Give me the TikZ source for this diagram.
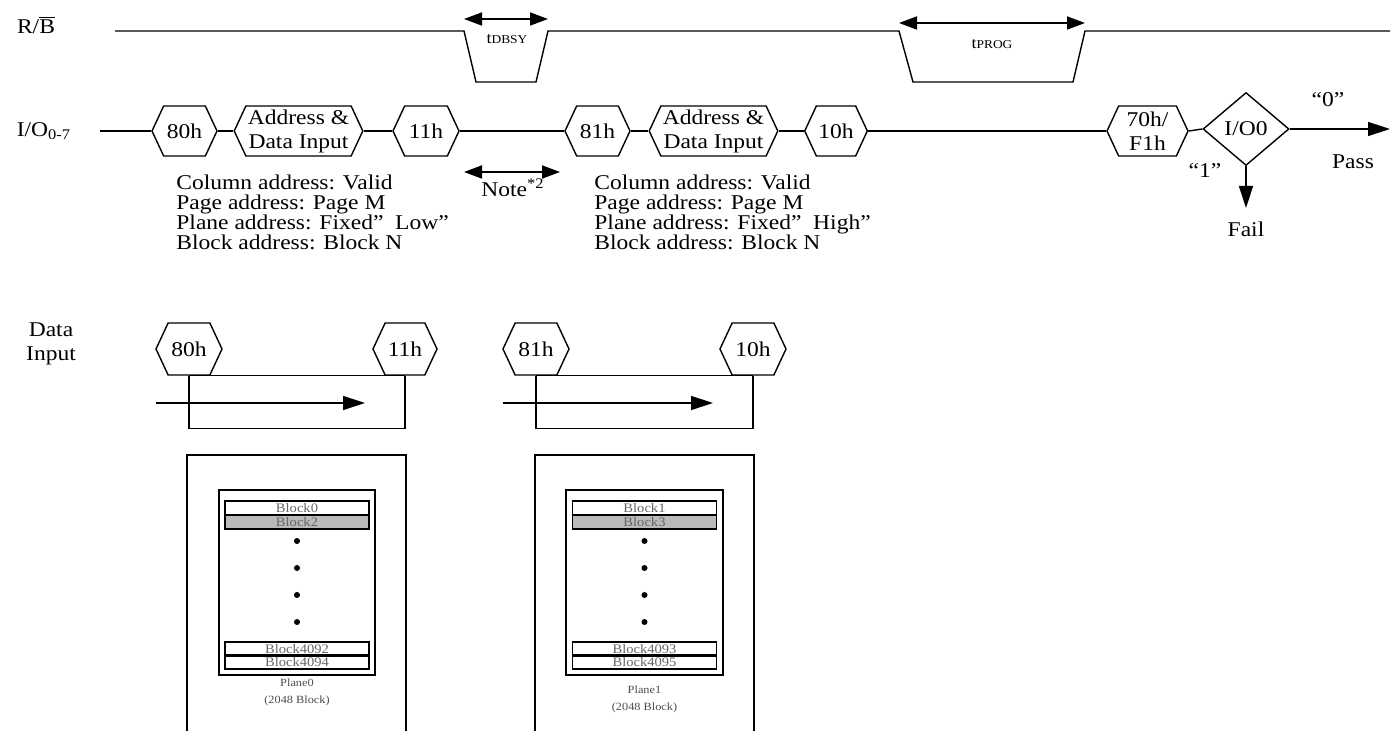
\documentclass[tikz,border=0pt]{standalone}
\usepackage{amsmath}
\usepackage{fontspec}
\setmainfont[FakeStretch=1.12]{Liberation Serif}
\usetikzlibrary{shapes.symbols, shapes.geometric, arrows.meta}
\tikzstyle{hexa}=[draw, line width=0.7pt, signal, signal to=east and west, signal pointer angle=130, minimum height=25pt, inner sep=1pt, align=center, font=\fontsize{10.5}{12}\selectfont]
\tikzstyle{wire}=[line width=0.7pt]
\tikzstyle{span}=[line width=0.9pt, {Triangle[length=9pt,width=6.5pt]}-{Triangle[length=9pt,width=6.5pt]}]
\tikzstyle{flow}=[line width=0.7pt, -{Triangle[length=11pt,width=7pt]}]
\tikzstyle{addr}=[align=left, anchor=north west, inner sep=0pt, font=\fontsize{10.5}{10}\selectfont]
\tikzstyle{tag}=[inner sep=0pt, font=\fontsize{10.5}{12}\selectfont]
\tikzstyle{tiny}=[inner sep=0pt, font=\fontsize{5.5}{6.5}\selectfont, text=black!70, align=center]
\tikzstyle{blk}=[draw, line width=0.7pt, minimum width=72pt, minimum height=7pt, inner sep=0pt, font=\fontsize{6.5}{6.5}\selectfont, text=black!60]
\tikzstyle{blkon}=[blk, fill=black!27]
\tikzstyle{dotmark}=[circle, fill=black, inner sep=0pt, minimum size=3pt]

\begin{document}
\begin{tikzpicture}[x=0.5pt, y=-0.5pt]
\useasboundingbox (0,0) rectangle (1397,731);

% R/B waveform
\node[tag] (rb) at (36,25) {R/$\overline{\text{B}}$};
\draw[wire] (115,31) -- (464,31) -- (476,82) -- (536,82) -- (548,31) -- (899,31)
  -- (913,82) -- (1073,82) -- (1085,31) -- (1390,31);
\coordinate (dbsyL) at (464,19);
\coordinate (dbsyR) at (548,19);
\draw[span] (dbsyL) -- (dbsyR);
\node[tag, font=\fontsize{8}{9}\selectfont] (tdbsy) at (507,39) {t{\fontsize{6}{7}\selectfont DBSY}};
\coordinate (progL) at (899,23);
\coordinate (progR) at (1085,23);
\draw[span] (progL) -- (progR);
\node[tag, font=\fontsize{8}{9}\selectfont] (tprog) at (992,44) {t{\fontsize{6}{7}\selectfont PROG}};

% I/O sequence
\node[tag] (io) at (44,131) {I/O\textsubscript{0-7}};
\coordinate (iostart) at (100,131);
\node[hexa, minimum width=32.5pt] (c80) at (184.5,131) {80h};
\node[hexa, minimum width=63.5pt] (ad1) at (298.5,131) {Address \&\\Data Input};
\node[hexa, minimum width=33pt] (c11) at (426,131) {11h};
\node[hexa, minimum width=32.5pt] (c81) at (597.5,131) {81h};
\node[hexa, minimum width=63.5pt] (ad2) at (713.5,131) {Address \&\\Data Input};
\node[hexa, minimum width=31pt] (c10) at (836,131) {10h};
\node[hexa, minimum width=40.5pt] (c70) at (1147.5,131) {70h/\\F1h};
\node[diamond, draw, line width=0.7pt, minimum width=43pt, minimum height=36.5pt, inner sep=0pt, font=\fontsize{10.5}{12}\selectfont] (io0) at (1246,129) {I/O0};
\coordinate (pass) at (1390,129);
\coordinate (fail) at (1246,208);
\draw[wire] (iostart) -- (c80.west);
\draw[wire] (c80.east) -- (ad1.west);
\draw[wire] (ad1.east) -- (c11.west);
\draw[wire] (c11.east) -- (c81.west);
\draw[wire] (c81.east) -- (ad2.west);
\draw[wire] (ad2.east) -- (c10.west);
\draw[wire] (c10.east) -- (c70.west);
\draw[wire] (c70.east) -- (io0.west);
\draw[flow] (io0.east) -- (pass);
\draw[flow] (io0.south) -- (fail);
\node[tag] (zero) at (1328,100) {``0''};
\node[tag] (one) at (1205,171) {``1''};
\node[tag] (passlbl) at (1353,162) {Pass};
\node[tag] (faillbl) at (1246,229) {Fail};

\coordinate (noteL) at (464,172);
\coordinate (noteR) at (560,172);
\draw[span] (noteL) -- (noteR);
\node[tag] (note) at (513,188) {Note\textsuperscript{*2}};

\node[addr] (addr1) at (176,175) {Column address: Valid\\Page address: Page M\\Plane address: Fixed''\ \ Low''\\Block address: Block N};
\node[addr] (addr2) at (594,175) {Column address: Valid\\Page address: Page M\\Plane address: Fixed''\ \ High''\\Block address: Block N};

% Data input
\node[tag, align=center, font=\fontsize{10.5}{12}\selectfont] (din) at (51,344) {Data\\Input};
\node[hexa, minimum width=33pt, minimum height=26pt] (d80) at (189,349) {80h};
\node[hexa, minimum width=32pt, minimum height=26pt] (d11) at (405,349) {11h};
\node[hexa, minimum width=33pt, minimum height=26pt] (d81) at (536,349) {81h};
\node[hexa, minimum width=33pt, minimum height=26pt] (d10) at (753,349) {10h};
\draw[wire] (d80.south) -- (d11.south);
\draw[wire] (d80.south) -- ++(0,53) -| (d11.south);
\draw[wire] (d81.south) -- (d10.south);
\draw[wire] (d81.south) -- ++(0,53) -| (d10.south);
\coordinate (in0s) at (156,403);
\coordinate (in0e) at (365,403);
\coordinate (in1s) at (503,403);
\coordinate (in1e) at (713,403);
\draw[flow] (in0s) -- (in0e);
\draw[flow] (in1s) -- (in1e);

% Plane 0
\draw[wire] (187,731) |- (406,455) -- (406,731);
\draw[wire] (219,490) rectangle (375,675);
\node[blk] (b0) at (297,508) {Block0};
\node[blkon] (b2) at (297,522) {Block2};
\node[blk] (b4092) at (297,649) {Block4092};
\node[blk] (b4094) at (297,662) {Block4094};
\foreach \y in {541, 568, 595, 622}{ \node[dotmark] at (297,\y) {}; }
\node[tiny] (p0) at (297,683) {Plane0};
\node[tiny] (p0n) at (297,701) {(2048 Block)};

% Plane 1
\draw[wire] (535,731) |- (754,455) -- (754,731);
\draw[wire] (566,490) rectangle (723,675);
\node[blk] (b1) at (644.5,508) {Block1};
\node[blkon] (b3) at (644.5,522) {Block3};
\node[blk] (b4093) at (644.5,649) {Block4093};
\node[blk] (b4095) at (644.5,662) {Block4095};
\foreach \y in {541, 568, 595, 622}{ \node[dotmark] at (644.5,\y) {}; }
\node[tiny] (p1) at (644.5,690) {Plane1};
\node[tiny] (p1n) at (644.5,708) {(2048 Block)};
\end{tikzpicture}
\end{document}
